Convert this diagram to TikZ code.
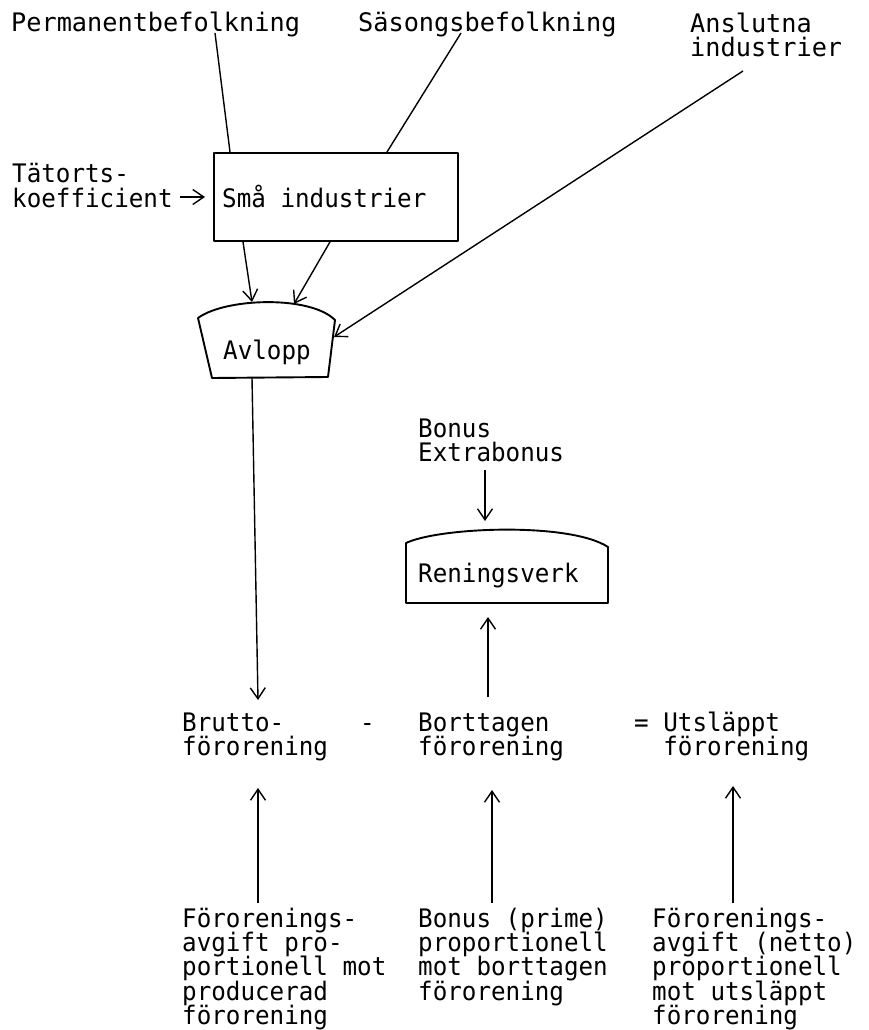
\documentclass[tikz,border=0pt]{standalone}
\usepackage{fontspec}
\newfontfamily\plotfont{DejaVu Sans Mono}[FakeStretch=0.95]
\newfontfamily\plotfontw{DejaVu Sans Mono}[FakeStretch=0.99]
\usetikzlibrary{arrows.meta,calc}
\newcommand{\mystrutA}{\rule{0pt}{26pt}}
\begin{document}
\begin{tikzpicture}[x=1pt,y=-1pt,
  txt/.style={font={\plotfont\fontsize{25.5pt}{24.3pt}\selectfont\lineskiplimit=-20pt}, inner sep=0pt, anchor=base west},
  mtxt/.style={txt, align=left, anchor=north west},
  toptxt/.style={txt, font={\plotfontw\fontsize{25.5pt}{24.3pt}\selectfont\lineskiplimit=-20pt}},
  conn/.style={line width=1.4pt},
  arr/.style={conn, -{Straight Barb[length=11pt,width=15pt]}},
  outl/.style={line width=1.9pt, line join=round}]
\useasboundingbox (0,0) rectangle (869,1030);

% ---- top labels
\node[toptxt] (perm) at (11,32) {Permanentbefolkning};
\node[toptxt] (sas) at (358,32) {Säsongsbefolkning};
\node[toptxt, align=left, anchor=north west] (ansl) at (690,6) {\mystrutA Anslutna\\industrier};
\node[mtxt] (tat) at (12,156.7) {\mystrutA Tätorts-\\koefficient};

% ---- box
\node[draw, outl, minimum width=244pt, minimum height=88pt, anchor=north west, inner sep=0pt] (smabox) at (213,152) {};
\node[txt] (sma) at (222,207) {Små industrier};

% ---- Avlopp
\coordinate (avl-nw) at (198,318);
\coordinate (avl-ne) at (335,320);
\coordinate (avl-se) at (328,377);
\coordinate (avl-sw) at (212,378);
\draw[outl] (avl-nw) .. controls (225,298) and (310,295) .. (avl-ne) -- (avl-se) -- (avl-sw) -- cycle;
\node[txt] (avl) at (223,359) {Avlopp};

% ---- Bonus / Reningsverk
\node[mtxt] (bonus) at (418,411) {\mystrutA Bonus\\Extrabonus};
\coordinate (ren-nw) at (406,543);
\coordinate (ren-ne) at (608,547);
\coordinate (ren-se) at (608,603);
\coordinate (ren-sw) at (406,603);
\draw[outl] (ren-nw) .. controls (440,527) and (570,522) .. (ren-ne) -- (ren-se) -- (ren-sw) -- cycle;
\node[txt] (ren) at (418,582) {Reningsverk};

% ---- equation row
\node[mtxt] (brutto) at (182,705) {\mystrutA Brutto-\\förorening};
\node[txt] (minus) at (360,731) {-};
\node[mtxt] (bort) at (418,705) {\mystrutA Borttagen\\förorening};
\node[mtxt] (utsl) at (634,705) {\mystrutA = Utsläppt\\\hphantom{==}förorening};

% ---- bottom explanations
\node[mtxt] (fa1) at (182,901) {\mystrutA Förorenings-\\avgift pro-\\portionell mot\\producerad\\förorening};
\node[mtxt] (bon) at (418,901) {\mystrutA Bonus (prime)\\proportionell\\mot borttagen\\förorening};
\node[mtxt] (fa3) at (652,901) {\mystrutA Förorenings-\\avgift (netto)\\proportionell\\mot utsläppt\\förorening};

% ---- connector end points
\coordinate (perm-foot) at (215,33);
\coordinate (perm-box) at ($(smabox.north west)+(17,0)$);
\coordinate (sas-foot) at (461,33);
\coordinate (sas-box) at ($(smabox.north west)+(174,0)$);
\coordinate (ansl-foot) at (743,71);
\coordinate (avl-e) at (334,337);
\coordinate (tat-e) at (180,197);
\coordinate (tat-tip) at (205,197);
\coordinate (box-s1) at ($(smabox.south west)+(30,0)$);
\coordinate (box-s2) at ($(smabox.south west)+(117,0)$);
\coordinate (avl-n1) at (252,302);
\coordinate (avl-n2) at (294,304);
\coordinate (avl-s) at (252,378);
\coordinate (brutto-n) at (258,700);
\coordinate (bonus-s) at (485,470);
\coordinate (ren-n) at (485,521);
\coordinate (bort-n) at (488,697);
\coordinate (ren-s) at (488,617);
\coordinate (fa1-n) at (258,903);
\coordinate (brutto-s) at (258,788);
\coordinate (bon-n) at (492,903);
\coordinate (bort-s) at (492,790);
\coordinate (fa3-n) at (733,903);
\coordinate (utsl-s) at (733,786);

% ---- connectors
\draw[conn] (perm-foot) -- (perm-box);
\draw[conn] (sas-foot) -- (sas-box);
\draw[arr] (ansl-foot) -- (avl-e);
\draw[arr] (tat-e) -- (tat-tip);
\draw[arr] (box-s1) -- (avl-n1);
\draw[arr] (box-s2) -- (avl-n2);
\draw[arr] (avl-s) -- (brutto-n);
\draw[arr] (bonus-s) -- (ren-n);
\draw[arr] (bort-n) -- (ren-s);
\draw[arr] (fa1-n) -- (brutto-s);
\draw[arr] (bon-n) -- (bort-s);
\draw[arr] (fa3-n) -- (utsl-s);
\end{tikzpicture}
\end{document}
